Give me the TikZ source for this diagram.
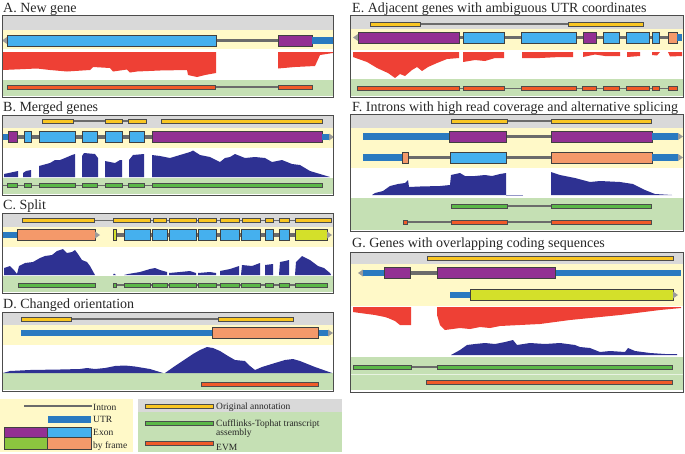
\documentclass[tikz,border=0pt]{standalone}
\usepackage{fontspec}
\setmainfont{Liberation Serif}
\definecolor{bgray}{HTML}{D9D9D9}
\definecolor{byel}{HTML}{FFF9C8}
\definecolor{bgreen}{HTML}{C5E0B4}
\definecolor{lblue}{HTML}{45B0EE}
\definecolor{utrc}{HTML}{2A7AC0}
\definecolor{purp}{HTML}{933093}
\definecolor{salm}{HTML}{F4996A}
\definecolor{lime}{HTML}{D4E02A}
\definecolor{anno}{HTML}{F9C623}
\definecolor{trgr}{HTML}{5BB848}
\definecolor{exgr}{HTML}{8CC63F}
\definecolor{evm}{HTML}{F05A28}
\definecolor{redc}{HTML}{EE4035}
\definecolor{navy}{HTML}{2E3192}
\definecolor{intr}{HTML}{6B6B6B}
\definecolor{arrc}{HTML}{9A9A9A}
\tikzset{
  exon/.style={draw=black!75,line width=0.6pt},
  intronline/.style={draw=intr,line width=3.5pt},
  thinbar/.style={draw=black!70,line width=0.5pt},
  thinline/.style={draw=intr,line width=1.8pt},
  framebox/.style={draw=black!70,line width=0.8pt},
  ttl/.style={font=\fontsize{14}{16}\selectfont,anchor=base west,inner sep=0pt,text=black!85},
  lgd/.style={font=\fontsize{9.5}{11}\selectfont,anchor=base west,inner sep=0pt,text=black!85},
}
\newcommand\gEx[4]{\filldraw[exon,fill=#1] (#2,#4-5.5) rectangle (#3,#4+5.5);}
\newcommand\gUtr[3]{\fill[utrc] (#1,#3-3.2) rectangle (#2,#3+3.2);}
\newcommand\gIntr[3]{\draw[intronline] (#1,#3) -- (#2,#3);}
\newcommand\gBar[4]{\filldraw[thinbar,fill=#1] (#2,#4-2) rectangle (#3,#4+2);}
\newcommand\gLine[3]{\draw[thinline] (#1,#3) -- (#2,#3);}
\newcommand\gArR[2]{\fill[arrc] (#1,#2-3.5) -- (#1+5,#2) -- (#1,#2+3.5) -- cycle;}
\newcommand\gArL[2]{\fill[arrc] (#1,#2-3.5) -- (#1-5,#2) -- (#1,#2+3.5) -- cycle;}
\newcommand\gBands[7]{%
  \fill[bgray] (#1,#3) rectangle (#2,#4);
  \fill[byel] (#1,#4) rectangle (#2,#5);
  \fill[bgreen] (#1,#6) rectangle (#2,#7);}
\begin{document}
\begin{tikzpicture}[x=1pt,y=-1pt]
\useasboundingbox (0,0) rectangle (685,453);
% ================= A
\node[ttl] (tA) at (3,12.5) {A. New gene};
\gBands{2}{333}{15}{30}{49}{80}{96}
\gIntr{216}{278}{40.5}
\gArL{7}{40.5}
\gEx{lblue}{7}{216}{40.5}
\gEx{purp}{278}{312}{40.5}
\gUtr{312}{333}{40.5}
\fill[redc] (3,52) -- (216,52) -- (216,73) -- (205,75) -- (197,77) -- (188,75) -- (187,70) -- (160,70.5) -- (137,71.5) -- (130,72.5) -- (127,69.5) -- (113,71.5) -- (110,68) -- (93,67) -- (90,70) -- (67,71.5) -- (50,70) -- (37,68.5) -- (3,70) -- cycle;
\fill[redc] (278,52) -- (333,52) -- (333,53) -- (320,55) -- (315,66) -- (295,67) -- (278,68.5) -- cycle;
\gLine{215}{278}{87}
\gBar{evm}{7}{215}{87}
\gBar{evm}{278}{312}{87}
\draw[framebox] (2,15) rectangle (333,97);
% ================= B
\node[ttl] (tB) at (3,111) {B. Merged genes};
\gBands{2}{333}{115}{128}{148}{178}{194}
\gLine{73}{105}{121}
\gLine{122}{128}{121}
\gBar{anno}{42}{73}{121}
\gBar{anno}{105}{122}{121}
\gBar{anno}{128}{146}{121}
\gBar{anno}{161}{322}{121}
\gIntr{8}{322}{137}
\gUtr{2}{8}{137}
\gEx{purp}{8}{17}{137}
\gEx{lblue}{24}{31}{137}
\gEx{lblue}{39}{75}{137}
\gEx{lblue}{82}{97}{137}
\gEx{lblue}{105}{122}{137}
\gEx{lblue}{129}{144}{137}
\gEx{purp}{152}{322}{137}
\gUtr{322}{329}{137}
\gArR{329}{137}
\fill[navy] (4,177) -- (4,174) -- (18,171) -- (18,177) -- cycle;
\fill[navy] (23,177) -- (23,173) -- (26,171) -- (31,170) -- (31,177) -- cycle;
\fill[navy] (39,177) -- (39,166) -- (50,163) -- (55,160) -- (60,160) -- (65,158) -- (72,155) -- (75,154) -- (75,177) -- cycle;
\fill[navy] (82,177) -- (82,156) -- (84,153) -- (95,154) -- (98,158) -- (98,177) -- cycle;
\fill[navy] (105,177) -- (105,161) -- (115,163) -- (120,160) -- (122,160) -- (122,177) -- cycle;
\fill[navy] (129,177) -- (129,160) -- (133,155) -- (144,154) -- (144,177) -- cycle;
\fill[navy] (152,177) -- (152,155) -- (160,156) -- (170,158) -- (180,155) -- (190,152) -- (193,150.5) -- (200,155) -- (210,157) -- (220,162) -- (225,158) -- (230,157) -- (235,154) -- (245,158) -- (255,157) -- (265,158) -- (272,162) -- (282,160) -- (292,164) -- (300,165) -- (310,171) -- (320,174) -- (330,177) -- cycle;
\gLine{3}{322}{185.5}
\gBar{trgr}{7}{17}{185.5}
\gBar{trgr}{24}{31}{185.5}
\gBar{trgr}{39}{75}{185.5}
\gBar{trgr}{82}{97}{185.5}
\gBar{trgr}{105}{122}{185.5}
\gBar{trgr}{128}{144}{185.5}
\gBar{trgr}{152}{322}{185.5}
\draw[framebox] (2,115) rectangle (333,195);
% ================= C
\node[ttl] (tC) at (3,209.5) {C. Split};
\gBands{2}{333}{213}{227}{247}{276}{292}
\gLine{94}{295}{220.5}
\gBar{anno}{22}{94}{220.5}
\gBar{anno}{113}{150}{220.5}
\gBar{anno}{153}{166}{220.5}
\gBar{anno}{169}{196}{220.5}
\gBar{anno}{198}{216}{220.5}
\gBar{anno}{220}{239}{220.5}
\gBar{anno}{242}{260}{220.5}
\gBar{anno}{265}{273}{220.5}
\gBar{anno}{279}{289}{220.5}
\gBar{anno}{295}{331}{220.5}
\gUtr{3}{17}{235}
\gEx{salm}{17}{95}{235}
\gArR{95}{235}
\gIntr{116}{295}{235}
\gEx{lime}{113}{116}{235}
\gEx{lblue}{124}{150}{235}
\gEx{lblue}{152}{167}{235}
\gEx{lblue}{169}{196}{235}
\gEx{lblue}{198}{216}{235}
\gEx{lblue}{220}{239}{235}
\gEx{lblue}{241}{260}{235}
\gEx{lblue}{265}{273}{235}
\gEx{lblue}{279}{289}{235}
\gEx{lime}{295}{327}{235}
\gArR{327}{235}
\fill[navy] (4,275) -- (4,268) -- (10,266) -- (14,270) -- (17,274) -- (19,266) -- (25,263) -- (33,262) -- (40,258) -- (45,256) -- (52,255) -- (57,251) -- (60,250) -- (63,249) -- (67,253) -- (72,252) -- (75,250) -- (78,254) -- (82,260) -- (87,262) -- (90,266) -- (95,275) -- cycle;
\fill[navy] (113,275) -- (114,273.5) -- (116,275) -- cycle;
\fill[navy] (124,275) -- (128,274) -- (140,272) -- (150,269) -- (155,268) -- (160,270) -- (167,272) -- (167,275) -- cycle;
\fill[navy] (169,275) -- (169,273) -- (180,272) -- (190,271) -- (196,273) -- (196,275) -- cycle;
\fill[navy] (198,275) -- (198,273) -- (210,272) -- (216,273) -- (216,275) -- cycle;
\fill[navy] (220,275) -- (220,271) -- (230,269) -- (239,266) -- (239,275) -- cycle;
\fill[navy] (241,275) -- (242,265) -- (252,266) -- (260,263) -- (260,275) -- cycle;
\fill[navy] (265,275) -- (265,265) -- (273,264) -- (273,275) -- cycle;
\fill[navy] (279,275) -- (280,262) -- (285,261) -- (289,260) -- (289,275) -- cycle;
\fill[navy] (295,275) -- (296,262) -- (302,256) -- (310,260) -- (318,266) -- (324,268) -- (330,273) -- (331,275) -- cycle;
\gLine{113}{327}{285}
\gBar{trgr}{18}{95}{285}
\gBar{trgr}{113}{116}{285}
\gBar{trgr}{124}{150}{285}
\gBar{trgr}{152}{167}{285}
\gBar{trgr}{169}{196}{285}
\gBar{trgr}{198}{216}{285}
\gBar{trgr}{220}{239}{285}
\gBar{trgr}{241}{260}{285}
\gBar{trgr}{265}{273}{285}
\gBar{trgr}{279}{289}{285}
\gBar{trgr}{295}{327}{285}
\draw[framebox] (2,213) rectangle (333,293);
% ================= D
\node[ttl] (tD) at (3,308) {D. Changed orientation};
\gBands{2}{333}{312}{325}{345}{373}{390}
\draw[draw=intr,line width=1.2pt] (71,319) -- (218,319);
\gBar{anno}{21}{71}{319}
\gBar{anno}{218}{293}{319}
\gUtr{21}{328}{333}
\gEx{salm}{212}{318}{333}
\gArR{328}{333}
\fill[navy] (3,373) -- (10,371) -- (30,370) -- (60,369.5) -- (80,369) -- (87,368) -- (95,369) -- (105,368) -- (115,366) -- (125,365.5) -- (135,366.5) -- (150,369) -- (163,373) -- cycle;
\fill[navy] (165,373) -- (175,366) -- (187,358) -- (193,354) -- (200,350) -- (207,347) -- (213,348) -- (220,351) -- (228,356) -- (235,360) -- (245,361) -- (250,366) -- (255,370) -- (262,367) -- (275,363) -- (285,360) -- (293,359) -- (300,361) -- (315,367) -- (332,373) -- cycle;
\gBar{evm}{201}{318}{384}
\draw[framebox] (2,312) rectangle (333,391);
% ================= E
\node[ttl] (tE) at (352,12.7) {E. Adjacent genes with ambiguous UTR coordinates};
\gBands{350}{683}{15}{29}{50}{79}{96}
\gLine{420}{568}{24}
\gBar{anno}{370}{420}{24}
\gBar{anno}{568}{643}{24}
\gIntr{459}{668}{37.5}
\gArL{358}{37.5}
\gEx{purp}{358}{459}{37.5}
\gEx{lblue}{463}{504}{37.5}
\gEx{lblue}{521}{576}{37.5}
\gEx{purp}{583}{596}{37.5}
\gEx{lblue}{603}{619}{37.5}
\gEx{lblue}{626}{649}{37.5}
\gEx{lblue}{652}{659}{37.5}
\gEx{salm}{668}{677}{37.5}
\gUtr{677}{682}{37.5}
\fill[redc] (353,52) -- (459,52) -- (459,58) -- (447,59) -- (437,63) -- (428,67) -- (422,71) -- (417,67) -- (412,70) -- (405,76) -- (400,74) -- (395,78) -- (388,73) -- (377,68) -- (367,62) -- (353,57) -- cycle;
\fill[redc] (463,52) -- (504,52) -- (504,58) -- (495,58) -- (485,61) -- (475,60) -- (463,62) -- cycle;
\fill[redc] (522,52) -- (573,52) -- (573,57) -- (560,57) -- (540,58) -- (522,58) -- cycle;
\fill[redc] (583,52) -- (620,52) -- (620,56) -- (605,56) -- (595,54.5) -- (583,57) -- cycle;
\fill[redc] (627,52) -- (640,52) -- (640,56) -- (627,57) -- cycle;
\fill[redc] (652,52) -- (660,52) -- (657,55.5) -- (652,55) -- cycle;
\fill[redc] (668,52) -- (682,52) -- (682,56) -- (670,56.5) -- cycle;
\gLine{357}{677}{88.5}
\gBar{evm}{357}{459}{88.5}
\gBar{evm}{463}{504}{88.5}
\gBar{evm}{521}{576}{88.5}
\gBar{evm}{582}{596}{88.5}
\gBar{evm}{603}{619}{88.5}
\gBar{evm}{626}{649}{88.5}
\gBar{evm}{652}{659}{88.5}
\gBar{evm}{668}{677}{88.5}
\draw[framebox] (350,15) rectangle (683,97);
% ================= F
\node[ttl] (tF) at (352,111.5) {F. Introns with high read coverage and alternative splicing};
\gBands{350}{683}{114}{128}{168}{198}{230}
\gLine{507}{551}{121}
\gBar{anno}{451}{507}{121}
\gBar{anno}{551}{651}{121}
\gUtr{363}{449}{136.5}
\gIntr{506}{551}{136.5}
\gEx{purp}{449}{506}{136.5}
\gEx{purp}{551}{652}{136.5}
\gUtr{652}{678}{136.5}
\gArR{678}{136.5}
\gUtr{363}{402}{157.5}
\gIntr{408}{551}{157.5}
\gEx{salm}{402}{408}{157.5}
\gEx{lblue}{450}{506}{157.5}
\gEx{salm}{551}{652}{157.5}
\gUtr{652}{678}{157.5}
\gArR{678}{157.5}
\fill[navy] (372,195) -- (375,193) -- (383,191) -- (390,186) -- (398,184) -- (405,183) -- (408,180) -- (409,187) -- (420,186.5) -- (440,186) -- (450,185) -- (451,175) -- (460,173) -- (465,176) -- (475,176) -- (485,175) -- (492,176) -- (500,174) -- (506,173) -- (506,195) -- cycle;
\draw[navy!50,line width=0.6pt] (506,195) -- (523,195);
\fill[navy] (551,195) -- (551,172) -- (560,175) -- (575,178) -- (590,182) -- (600,181) -- (620,182) -- (633,184) -- (645,190) -- (655,194) -- (672,195) -- cycle;
\gLine{507}{551}{206}
\gBar{trgr}{451}{507}{206}
\gBar{trgr}{551}{651}{206}
\gLine{405}{551}{222}
\gBar{evm}{403}{407}{222}
\gBar{evm}{451}{507}{222}
\gBar{evm}{551}{651}{222}
\draw[framebox] (350,114) rectangle (683,231);
% ================= G
\node[ttl] (tG) at (352,247.5) {G. Genes with overlapping coding sequences};
\gBands{350}{683}{252}{264}{306}{357}{390}
\draw[white!60!bgreen,line width=0.8pt] (350,374) -- (683,374);
\gBar{anno}{427}{673}{258}
\gArL{363}{273}
\gUtr{363}{384}{273}
\gUtr{555}{681}{273}
\gIntr{410}{437}{273}
\gEx{purp}{384}{410}{273}
\gEx{purp}{437}{555}{273}
\gUtr{450}{470}{295}
\gEx{lime}{470}{673}{295}
\gArR{673}{295}
\fill[redc] (353,307) -- (411,307) -- (411,325) -- (400,325) -- (395,321) -- (388,318) -- (385,317) -- (375,315) -- (360,313) -- (353,312) -- cycle;
\fill[redc] (437,307) -- (681,307) -- (681,308) -- (660,310) -- (620,315) -- (570,320) -- (540,324) -- (500,326) -- (490,328) -- (480,327) -- (470,329) -- (460,328) -- (445,330) -- (440,325) -- (437,315) -- cycle;
\fill[navy] (451,355) -- (460,350) -- (467,345) -- (475,344) -- (485,343) -- (495,344) -- (505,342) -- (513,340) -- (517,345) -- (530,343) -- (545,344) -- (560,343) -- (575,345) -- (580,347) -- (590,348) -- (600,352) -- (610,351) -- (625,352) -- (628,348) -- (635,351) -- (650,353) -- (665,354) -- (677,354) -- (677,355) -- cycle;
\gLine{411}{437}{367}
\gBar{trgr}{353}{411}{367}
\gBar{trgr}{437}{672}{367}
\gBar{evm}{426}{672}{382.5}
\draw[framebox] (350,252) rectangle (683,392);
% ================= Legend
\fill[byel] (0,399) rectangle (133,452);
\draw[draw=intr,line width=2.5pt] (24,406) -- (92,406);
\node[lgd] (lIntron) at (93,410) {Intron};
\fill[utrc] (48,416) rectangle (91,423);
\node[lgd] (lUTR) at (93,422) {UTR};
\filldraw[exon,fill=purp] (4,427) rectangle (47,437.5);
\filldraw[exon,fill=lblue] (47,427) rectangle (91,437.5);
\filldraw[exon,fill=exgr] (4,437.5) rectangle (47,449);
\filldraw[exon,fill=salm] (47,437.5) rectangle (91,449);
\node[lgd] (lExon) at (93,435) {Exon};
\node[lgd] (lFrame) at (93,448) {by frame};
\fill[bgray] (138,399) rectangle (342,412);
\fill[bgreen] (138,412) rectangle (342,452);
\gBar{anno}{145}{213}{406.5}
\node[lgd] (lOrig) at (216,409.5) {Original annotation};
\gBar{trgr}{145}{213}{423}
\node[lgd] (lCuff) at (216,426.5) {Cufflinks-Tophat transcript};
\node[lgd] (lAsm) at (216,435.5) {assembly};
\gBar{evm}{145}{213}{443}
\node[lgd] (lEVM) at (216,450) {EVM};
\end{tikzpicture}
\end{document}
